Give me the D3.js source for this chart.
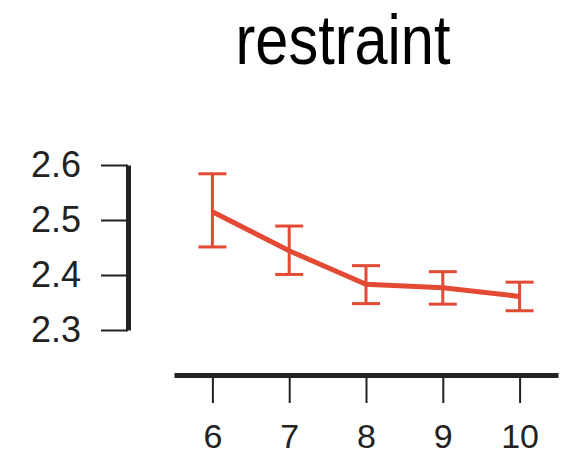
<!DOCTYPE html>
<html>
<head>
<meta charset="utf-8">
<script src="https://cdn.jsdelivr.net/npm/d3@7"></script>
<style>
  body { margin: 0; background: #fff; }
  text { font-family: "Liberation Sans", Arial, sans-serif; fill: #222; }
</style>
</head>
<body>
<svg id="chart" width="562" height="456"></svg>
<script>
// values
var waves = [6, 7, 8, 9, 10];
var means = [2.515, 2.444, 2.383, 2.377, 2.361];
var upper = [2.584, 2.489, 2.417, 2.406, 2.387];
var lower = [2.451, 2.401, 2.348, 2.347, 2.335];
var yTicks = [2.3, 2.4, 2.5, 2.6];
var title = "restraint";

var svg = d3.select("#chart");
var red = "#e24a33";

var x = d3.scaleLinear().domain([5.5, 10.5]).range([174, 558]);
var y = d3.scaleLinear().domain([2.3, 2.6]).range([330, 165]);

// title (condensed look: squeeze a regular face)
svg.append("text")
	.attr("transform", "translate(343,64) scale(0.85,1)")
	.attr("text-anchor", "middle")
	.style("font-size", "70px")
	.style("fill", "#000")
	.text(title);

// y axis
var yAxis = svg.append("g")
	.attr("transform", "translate(128,0)")
	.call(d3.axisLeft(y).tickValues(yTicks).tickSize(27).tickPadding(20).tickSizeOuter(0).tickFormat(d3.format(".1f")));
yAxis.select(".domain").attr("stroke", "#222").attr("stroke-width", 5);
yAxis.selectAll(".tick line").attr("stroke", "#222").attr("stroke-width", 2);
yAxis.selectAll(".tick text").style("font-size", "36px").style("fill", "#222");

// x axis
var xAxis = svg.append("g")
	.attr("transform", "translate(0,375)")
	.call(d3.axisBottom(x).tickValues(waves).tickSize(28).tickPadding(21).tickSizeOuter(0).tickFormat(d3.format("d")));
xAxis.select(".domain").attr("stroke", "#222").attr("stroke-width", 5);
xAxis.selectAll(".tick line").attr("stroke", "#222").attr("stroke-width", 2);
xAxis.selectAll(".tick text").style("font-size", "34px").style("fill", "#222");

// error bars
var rows = waves.map(function (w, i) {
	return { w: w, m: means[i], hi: upper[i], lo: lower[i] };
});
var capW = 14;
var eb = svg.append("g").attr("stroke", red).attr("stroke-width", 3).attr("fill", "none");
eb.selectAll(".v").data(rows).enter().append("line")
	.attr("x1", function (d) { return x(d.w); })
	.attr("x2", function (d) { return x(d.w); })
	.attr("y1", function (d) { return y(d.hi); })
	.attr("y2", function (d) { return y(d.lo); });
eb.selectAll(".t").data(rows).enter().append("line")
	.attr("x1", function (d) { return x(d.w) - capW; })
	.attr("x2", function (d) { return x(d.w) + capW; })
	.attr("y1", function (d) { return y(d.hi); })
	.attr("y2", function (d) { return y(d.hi); });
eb.selectAll(".b").data(rows).enter().append("line")
	.attr("x1", function (d) { return x(d.w) - capW; })
	.attr("x2", function (d) { return x(d.w) + capW; })
	.attr("y1", function (d) { return y(d.lo); })
	.attr("y2", function (d) { return y(d.lo); });

// mean line
var line = d3.line()
	.x(function (d) { return x(d.w); })
	.y(function (d) { return y(d.m); });
svg.append("path")
	.datum(rows)
	.attr("d", line)
	.attr("fill", "none")
	.attr("stroke", red)
	.attr("stroke-width", 5);
</script>
</body>
</html>
